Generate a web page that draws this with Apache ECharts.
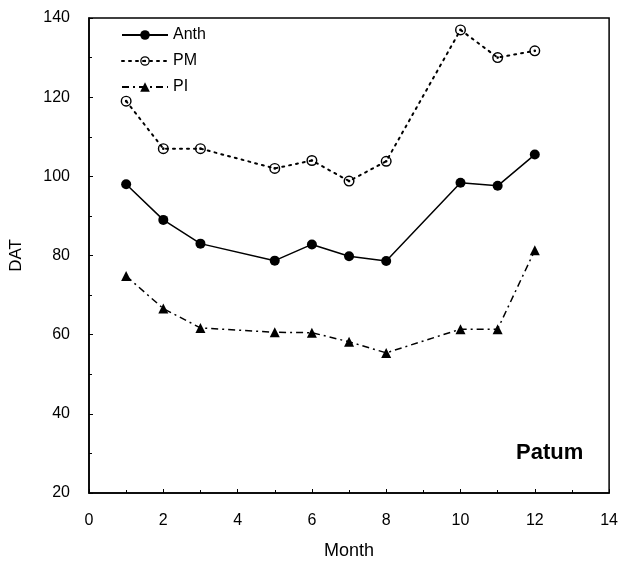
<!DOCTYPE html>
<html>
<head>
<meta charset="utf-8">
<title>DAT by month - Patum</title>
<script src="https://cdn.jsdelivr.net/npm/echarts@6/dist/echarts.min.js"></script>
<style>
  html, body { margin: 0; padding: 0; background: #fff; }
  #chart { width: 621px; height: 567px; }
</style>
</head>
<body>
<div id="chart"></div>
<script>
// Planting month
const months = [1, 2, 3, 5, 6, 7, 8, 10, 11, 12];
// Days after transplanting for each growth stage
const anth = [98, 89, 83, 78.7, 82.8, 79.8, 78.6, 98.4, 97.6, 105.5];
const pm   = [119, 107, 107, 102, 104, 98.8, 103.8, 137, 130, 131.7];
const pi   = [74.8, 66.6, 61.7, 60.6, 60.5, 58.2, 55.4, 61.4, 61.4, 81.3];

const seriesNames = ['Anth', 'PM', 'PI'];

// open circle with a centre dot
const ringDot = 'path://M12,2A10,10 0 1,1 12,22A10,10 0 1,1 12,2Z' +
  'M12,4.6A7.4,7.4 0 1,0 12,19.4A7.4,7.4 0 1,0 12,4.6Z' +
  'M12,9.6A2.4,2.4 0 1,1 12,14.4A2.4,2.4 0 1,1 12,9.6Z';

const pairs = (ys) => months.map((m, i) => [m, ys[i]]);
const font = 'Liberation Sans, Arial, Helvetica, sans-serif';

const chart = echarts.init(document.getElementById('chart'));
chart.setOption({
  animation: false,
  backgroundColor: '#fff',
  grid: {
    left: 89, right: 9, top: 18, bottom: 74,
    show: true, borderColor: '#000', borderWidth: 1.5
  },
  legend: {
    orient: 'vertical',
    left: 116, top: 22,
    itemWidth: 46, itemHeight: 12, itemGap: 10,
    textStyle: { fontFamily: font, fontSize: 16, color: '#000', lineHeight: 16 },
    data: seriesNames
  },
  xAxis: {
    type: 'value', min: 0, max: 14, interval: 2,
    name: 'Month', nameLocation: 'middle', nameGap: 49,
    nameTextStyle: { fontFamily: font, fontSize: 18, color: '#000' },
    axisLine: { show: true, onZero: false, lineStyle: { color: '#000', width: 1.5 } },
    axisTick: { show: true, inside: true, length: 4, lineStyle: { color: '#000' } },
    minorTick: { show: true, splitNumber: 2, length: 3, lineStyle: { color: '#000' } },
    axisLabel: { fontFamily: font, fontSize: 16, color: '#000', margin: 20 },
    splitLine: { show: false }
  },
  yAxis: {
    type: 'value', min: 20, max: 140, interval: 20,
    name: 'DAT', nameLocation: 'middle', nameGap: 64, nameRotate: 90,
    nameTextStyle: { fontFamily: font, fontSize: 17, color: '#000' },
    axisLine: { show: true, onZero: false, lineStyle: { color: '#000', width: 1.5 } },
    axisTick: { show: true, inside: true, length: 4, lineStyle: { color: '#000' } },
    minorTick: { show: true, splitNumber: 2, length: 3, lineStyle: { color: '#000' } },
    axisLabel: { fontFamily: font, fontSize: 16, color: '#000', margin: 19 },
    splitLine: { show: false }
  },
  graphic: [{
    type: 'text', left: 516, top: 442,
    style: { text: 'Patum', font: 'bold 22px ' + font, fill: '#000' }
  }],
  series: [
    {
      name: 'Anth', type: 'line', data: pairs(anth),
      symbol: 'circle', symbolSize: 10,
      lineStyle: { color: '#000', width: 1.5, type: 'solid' },
      itemStyle: { color: '#000' }
    },
    {
      name: 'PM', type: 'line', data: pairs(pm),
      symbol: ringDot, symbolSize: 11,
      lineStyle: { color: '#000', width: 2, type: [2, 5], cap: 'round' },
      itemStyle: { color: '#000' }
    },
    {
      name: 'PI', type: 'line', data: pairs(pi),
      symbol: 'triangle', symbolSize: 10,
      lineStyle: { color: '#000', width: 1.5, type: [7, 4, 2, 4] },
      itemStyle: { color: '#000' }
    }
  ]
});
</script>
</body>
</html>
